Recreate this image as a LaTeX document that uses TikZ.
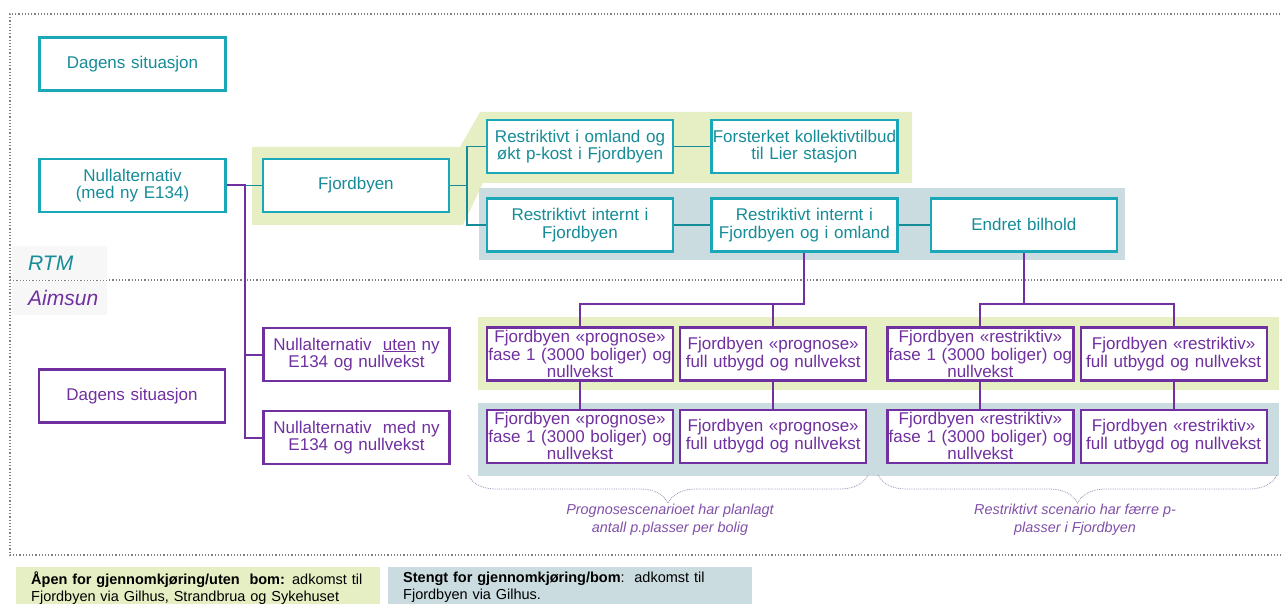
\documentclass[tikz,border=0pt]{standalone}
\usepackage{fontspec}
\setmainfont{Liberation Sans}
\usepackage{tikz}
\usetikzlibrary{positioning, calc}
\usetikzlibrary{decorations.pathreplacing}
\definecolor{tealline}{RGB}{26,168,184}
\definecolor{tealtext}{RGB}{22,140,152}
\definecolor{purpleline}{RGB}{112,48,160}
\definecolor{bandgreen}{RGB}{230,239,196}
\definecolor{bandblue}{RGB}{202,220,224}
\definecolor{bracecol}{RGB}{160,140,180}
\definecolor{notecol}{RGB}{128,80,168}
\newcommand{\boxfont}{\fontsize{17}{17.7}\selectfont}
\newcommand{\notefont}{\fontsize{14.4}{18}\selectfont\itshape}
\newcommand{\legendfont}{\fontsize{14.5}{17}\selectfont}
\tikzstyle{rtmbox}=[rectangle,line width=2.4pt,draw=tealline,
fill=white,text=tealtext,minimum width=186pt,minimum height=53pt,
text width=186pt,inner xsep=0pt,inner ysep=1pt,align=center,font=\boxfont]
\tikzstyle{aimbox}=[rtmbox,line width=2.2pt,draw=purpleline,text=purpleline]
\tikzstyle{rtmedge}=[draw=tealtext,line width=1.8pt]
\tikzstyle{aimedge}=[draw=purpleline,line width=2pt]
\tikzstyle{frameline}=[draw=black!50,line width=1.2pt,dotted]
\tikzstyle{modellabel}=[rectangle,fill=black!3,minimum height=34pt,
text width=63pt,inner xsep=16pt,align=left,anchor=west,
font=\fontsize{21}{21}\selectfont\itshape]
\tikzstyle{notebrace}=[draw=bracecol,line width=0.8pt,densely dotted,
decorate,decoration={brace,mirror,amplitude=28pt}]
\tikzstyle{notetext}=[text=notecol,align=center,font=\notefont]
\tikzstyle{legendbox}=[rectangle,anchor=north west,text width=334pt,
inner xsep=15pt,inner ysep=5pt,align=left,font=\legendfont]

\begin{document}
\begin{tikzpicture}[x=1pt,y=-1pt]
    \useasboundingbox (0,0) rectangle (1282,604);

    % frame and model split
    \draw[frameline] (1290,14) -- (10,14) -- (10,555) -- (1290,555);
    \draw[frameline] (10,280) -- (1290,280);

    % highlight bands
    \fill[bandgreen] (252,147) -- (460,147) -- (480,112) -- (912,112)
        -- (912,183) -- (483,183) -- (463,225) -- (252,225) -- cycle;
    \fill[bandblue] (479,188) rectangle (1125,260);
    \fill[bandgreen] (478,317) rectangle (1279,390);
    \fill[bandblue] (478,403) rectangle (1279,476);

    \node[modellabel, text=tealtext] (rtm) at (12,263) {RTM};
    \node[modellabel, text=purpleline] (aimsun) at (12,298) {Aimsun};

    % RTM
    \node[rtmbox] (null) at (132.5,185.5) {Nullalternativ\\(med ny E134)};
    \node[rtmbox, above=66pt of null] (dagrtm) {Dagens situasjon};
    \node[rtmbox, right=35pt of null] (fjord) {Fjordbyen};
    \node[rtmbox] (romland) at (580,146.5)
        {Restriktivt i omland og\\økt p-kost i Fjordbyen};
    \node[rtmbox, right=36pt of romland] (forst)
        {Forsterket kollektivtilbud\\til Lier stasjon};
    \node[rtmbox, below=23pt of romland] (rint)
        {Restriktivt internt i\\Fjordbyen};
    \node[rtmbox, right=36pt of rint] (rintoml)
        {Restriktivt internt i\\Fjordbyen og i omland};
    \node[rtmbox, right=31pt of rintoml] (bilhold) {Endret bilhold};

    \path[rtmedge]
        (null) edge (fjord)
        (romland) edge (forst)
        (rint) edge (rintoml)
        (rintoml) edge (bilhold);
    \draw[rtmedge] (fjord.east) -- ++(17,0) coordinate (fjfork) |- (romland.west);
    \draw[rtmedge] (fjfork) |- (rint.west);

    % Aimsun
    \node[aimbox] (dagaim) at (132,396) {Dagens situasjon};
    \node[aimbox] (nuten) at (356.5,354.5)
        {Nullalternativ\ \ \underline{uten} ny\\E134 og nullvekst};
    \node[aimbox, below=28pt of nuten] (nmed)
        {Nullalternativ\ \ med ny\\E134 og nullvekst};

    \node[aimbox] (pf1a) at (580,354)
        {Fjordbyen «prognose»\\fase 1 (3000 boliger) og\\nullvekst};
    \node[aimbox, right=5pt of pf1a] (pfulla)
        {Fjordbyen «prognose»\\full utbygd og nullvekst};
    \node[aimbox, right=19pt of pfulla] (rf1a)
        {Fjordbyen «restriktiv»\\fase 1 (3000 boliger) og\\nullvekst};
    \node[aimbox, right=5pt of rf1a] (rfulla)
        {Fjordbyen «restriktiv»\\full utbygd og nullvekst};

    \node[aimbox, below=27pt of pf1a] (pf1b)
        {Fjordbyen «prognose»\\fase 1 (3000 boliger) og\\nullvekst};
    \node[aimbox, below=27pt of pfulla] (pfullb)
        {Fjordbyen «prognose»\\full utbygd og nullvekst};
    \node[aimbox, below=27pt of rf1a] (rf1b)
        {Fjordbyen «restriktiv»\\fase 1 (3000 boliger) og\\nullvekst};
    \node[aimbox, below=27pt of rfulla] (rfullb)
        {Fjordbyen «restriktiv»\\full utbygd og nullvekst};

    \draw[aimedge] (null.east) -- ++(18,0) coordinate (nfork) |- (nuten.west);
    \draw[aimedge] (nfork) |- (nmed.west);
    \draw[aimedge] (rintoml.south) -- ++(0,51) coordinate (pfork) -| (pf1a.north);
    \draw[aimedge] (pfork) -| (pfulla.north);
    \draw[aimedge] (bilhold.south) -- ++(0,51) coordinate (rfork) -| (rf1a.north);
    \draw[aimedge] (rfork) -| (rfulla.north);
    \path[aimedge]
        (pf1a) edge (pf1b)
        (pfulla) edge (pfullb)
        (rf1a) edge (rf1b)
        (rfulla) edge (rfullb);

    % notes under the scenarios
    \coordinate (pbrl) at (468,475);
    \coordinate (pbrr) at (868,475);
    \coordinate (rbrl) at (878,475);
    \coordinate (rbrr) at (1277,475);
    \draw[notebrace] (pbrl) -- (pbrr);
    \draw[notebrace] (rbrl) -- (rbrr);
    \node[notetext] (pnote) at (670,520)
        {Prognosescenarioet har planlagt\\antall p.plasser per bolig};
    \node[notetext] (rnote) at (1075,520)
        {Restriktivt scenario har færre p-\\plasser i Fjordbyen};

    % legend
    \node[legendbox, fill=bandgreen] (aapen) at (16,567)
        {\mbox{\textbf{Åpen for gjennomkjøring/uten\ \ bom:} adkomst til}\\
         \mbox{Fjordbyen via Gilhus, Strandbrua og Sykehuset}};
    \node[legendbox, fill=bandblue] (stengt) at (388,567)
        {\mbox{\textbf{Stengt for gjennomkjøring/bom}:\ \ adkomst til}\\
         \mbox{Fjordbyen via Gilhus.}};
\end{tikzpicture}
\end{document}
